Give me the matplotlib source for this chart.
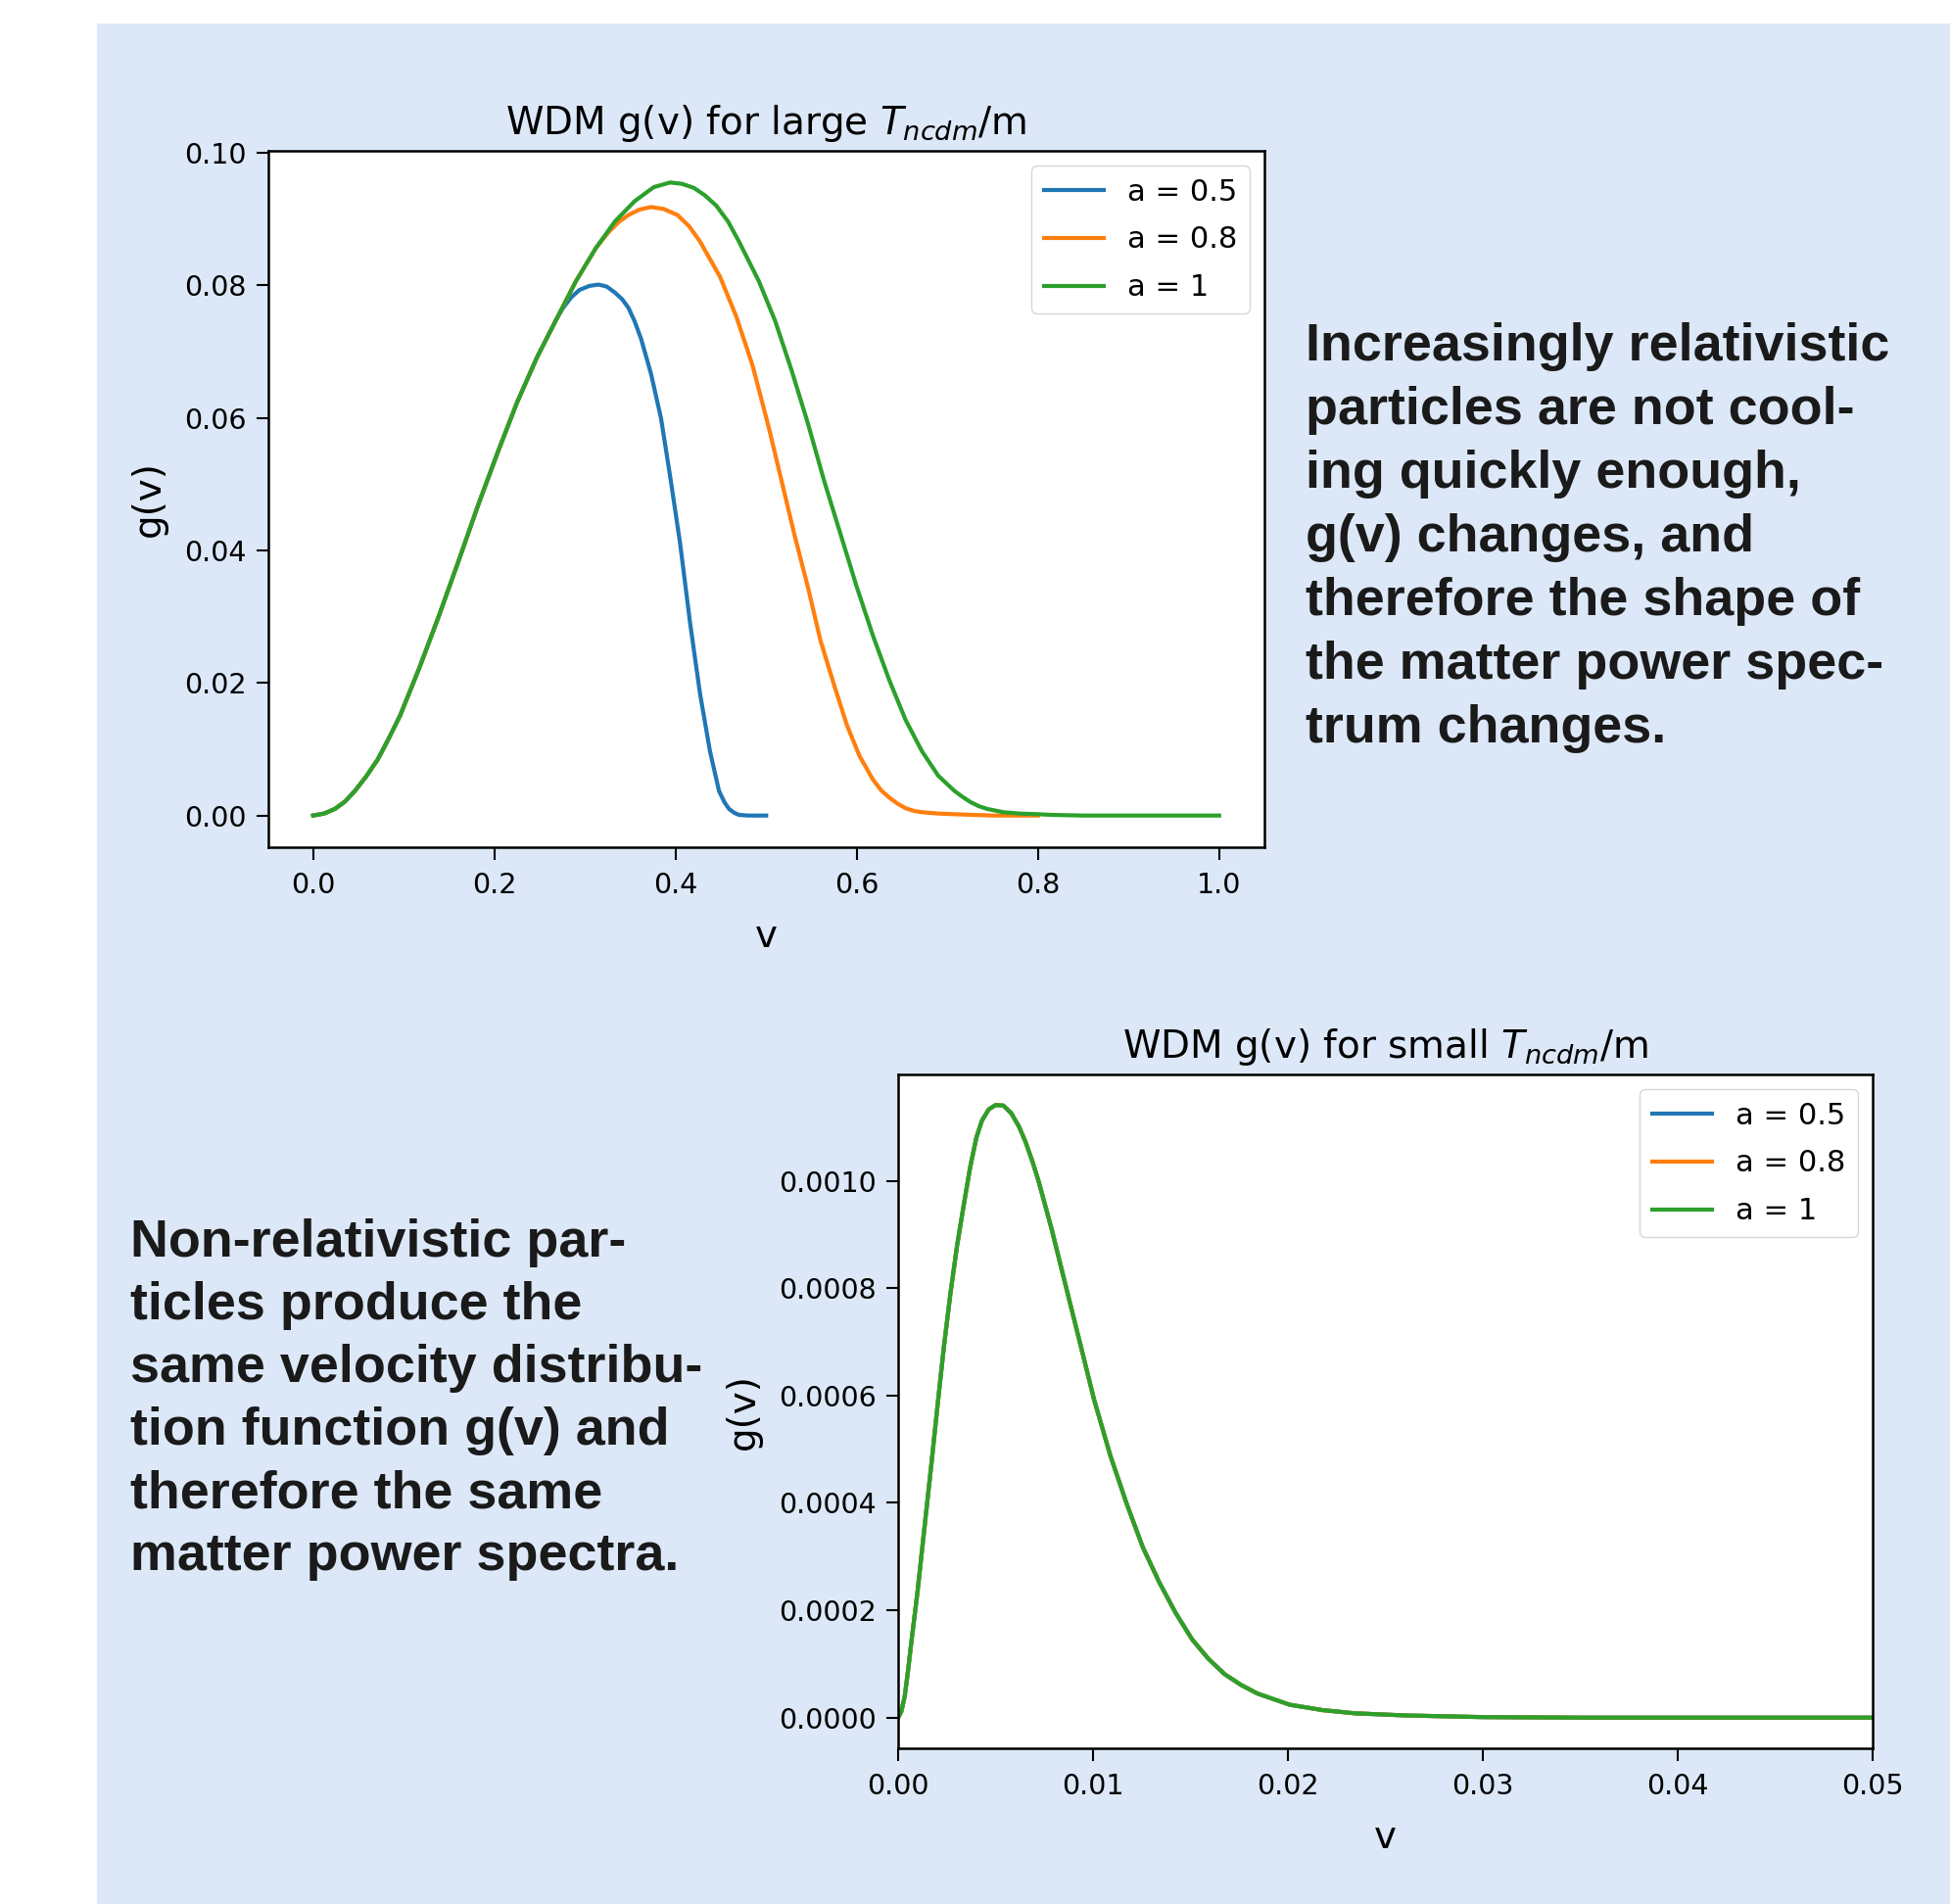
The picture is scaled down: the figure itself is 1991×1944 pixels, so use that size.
import matplotlib.pyplot as plt
from matplotlib.patches import Rectangle

# --- large T_ncdm/m panel: values ---
# shared rising part of all three curves
v_rise = [0.0, 0.012, 0.024, 0.035, 0.046, 0.058, 0.071, 0.083, 0.096, 0.117, 0.139, 0.161, 0.182,
          0.204, 0.225, 0.247, 0.269]
g_rise = [0.0, 0.0003, 0.0010, 0.0021, 0.0037, 0.0058, 0.0084, 0.0115, 0.0151, 0.0222, 0.0302, 0.0386, 0.0468,
          0.0549, 0.0623, 0.0691, 0.0750]

v_a05 = v_rise + [0.276, 0.285, 0.294, 0.305, 0.315, 0.324, 0.333, 0.341, 0.348, 0.355, 0.362, 0.373, 0.384,
                  0.394, 0.405, 0.416, 0.427, 0.438, 0.448, 0.454, 0.459, 0.465, 0.470, 0.480, 0.500]
g_a05 = g_rise + [0.0766, 0.0782, 0.0793, 0.0799, 0.0801, 0.0798, 0.0789, 0.0779, 0.0766, 0.0745, 0.0719, 0.0666,
                  0.0599, 0.0512, 0.0411, 0.0291, 0.0184, 0.0097, 0.0037, 0.0020, 0.0010, 0.0004, 0.0001, 0.0, 0.0]

v_a08 = v_rise + [0.290, 0.312, 0.326, 0.337, 0.348, 0.360, 0.373, 0.387, 0.402, 0.415, 0.427, 0.449, 0.467,
                  0.485, 0.503, 0.517, 0.531, 0.546, 0.560, 0.575, 0.589, 0.603, 0.618, 0.627, 0.636, 0.645,
                  0.654, 0.663, 0.672, 0.690, 0.708, 0.750, 0.800]
g_a08 = g_rise + [0.0806, 0.0856, 0.0880, 0.0895, 0.0906, 0.0914, 0.0918, 0.0915, 0.0906, 0.0889, 0.0866, 0.0813,
                  0.0753, 0.0679, 0.0585, 0.0505, 0.0425, 0.0345, 0.0264, 0.0197, 0.0137, 0.0090, 0.0054, 0.0038,
                  0.0027, 0.0018, 0.0011, 0.0007, 0.0005, 0.0003, 0.0002, 0.0, 0.0]

v_a1 = v_rise + [0.290, 0.312, 0.333, 0.355, 0.376, 0.394, 0.407, 0.420, 0.432, 0.445, 0.458, 0.470, 0.492,
                 0.510, 0.528, 0.546, 0.564, 0.582, 0.600, 0.618, 0.636, 0.654, 0.672, 0.690, 0.708, 0.717,
                 0.726, 0.735, 0.744, 0.762, 0.780, 0.800, 0.815, 0.850, 0.900, 1.000]
g_a1 = g_rise + [0.0806, 0.0856, 0.0896, 0.0927, 0.0948, 0.0955, 0.0953, 0.0947, 0.0936, 0.0920, 0.0896, 0.0866,
                 0.0806, 0.0746, 0.0672, 0.0592, 0.0505, 0.0425, 0.0345, 0.0271, 0.0204, 0.0144, 0.0097, 0.0060,
                 0.0037, 0.0028, 0.0020, 0.0014, 0.0010, 0.0005, 0.0003, 0.0002, 0.0001, 0.0, 0.0, 0.0]

# --- small T_ncdm/m panel: the three curves coincide ---
v_small = [0.0, 0.00017, 0.00034, 0.0005, 0.00067, 0.0010, 0.00134, 0.00168, 0.00201, 0.00235, 0.00268,
           0.00302, 0.00335, 0.00369, 0.00402, 0.0043, 0.00465, 0.0050, 0.0054, 0.0058, 0.0062, 0.00653,
           0.0069, 0.0072, 0.00787, 0.00854, 0.00938, 0.01005, 0.01089, 0.01173, 0.01256, 0.0134, 0.01424,
           0.01508, 0.01591, 0.01675, 0.01759, 0.01843, 0.0193, 0.0201, 0.02178, 0.02345, 0.0261, 0.030,
           0.035, 0.040, 0.045, 0.050]
g_small = [0.0, 0.000012, 0.00004, 0.000085, 0.000138, 0.000236, 0.00035, 0.000463, 0.000577, 0.000691, 0.000789,
           0.000878, 0.000951, 0.001024, 0.001081, 0.001112, 0.001133, 0.001141, 0.00114, 0.001126, 0.001101,
           0.001073, 0.001035, 0.0010, 0.000911, 0.000813, 0.000691, 0.000593, 0.000488, 0.000398, 0.000317,
           0.000252, 0.000195, 0.000146, 0.00011, 0.000081, 0.000061, 0.000045, 0.000034, 0.000024, 0.000014,
           0.000008, 0.000004, 0.000001, 0.0, 0.0, 0.0, 0.0]

labels = ['a = 0.5', 'a = 0.8', 'a = 1']

right_lines = ["Increasingly relativistic", "particles are not cool-", "ing quickly enough,",
               "g(v) changes, and", "therefore the shape of", "the matter power spec-", "trum changes."]
left_lines = ["Non-relativistic par-", "ticles produce the", "same velocity distribu-",
              "tion function g(v) and", "therefore the same", "matter power spectra."]

W, H = 1991, 1944
plt.rcParams.update({
    'font.size': 20.5,
    'axes.linewidth': 1.8,
    'xtick.major.size': 9,
    'ytick.major.size': 9,
    'xtick.major.width': 1.5,
    'ytick.major.width': 1.5,
    'xtick.major.pad': 9,
    'ytick.major.pad': 7,
    'lines.linewidth': 3.0,
})

fig = plt.figure(figsize=(W / 100, H / 100), dpi=100, facecolor='white')
fig.patches.append(Rectangle((99 / W, 0), 1 - 99 / W, 1 - 24 / H, transform=fig.transFigure,
                             facecolor='#dce8f7', edgecolor='none', zorder=-10))


def px(x, y):
    return x / W, 1 - y / H


ax1 = fig.add_axes([273.5 / W, 1 - 865 / H, (1291 - 273.5) / W, (865 - 154) / H])
ax1.plot(v_a05, g_a05, label=labels[0])
ax1.plot(v_a08, g_a08, label=labels[1])
ax1.plot(v_a1, g_a1, label=labels[2])
ax1.set_title('WDM g(v) for large $T_{ncdm}$/m', fontsize=28, pad=12)
ax1.set_xlabel('v', fontsize=28, labelpad=14)
ax1.set_ylabel('g(v)', fontsize=28, labelpad=12)
ax1.legend(loc='upper right', fontsize=22, labelspacing=0.65)

ax2 = fig.add_axes([917 / W, 1 - 1785 / H, (1912 - 917) / W, (1785 - 1097) / H])
for lab in labels:
    ax2.plot(v_small, g_small, label=lab)
ax2.set_xlim(0, 0.05)
ax2.set_title('WDM g(v) for small $T_{ncdm}$/m', fontsize=28, pad=12)
ax2.set_xlabel('v', fontsize=28, labelpad=14)
ax2.set_ylabel('g(v)', fontsize=28, labelpad=12)
ax2.legend(loc='upper right', fontsize=22, labelspacing=0.65)

for i, line in enumerate(right_lines):
    fig.text(*px(1333, 368 + 65 * i), line, fontsize=38.8, fontweight='bold',
             family='Liberation Sans', color='#1a1a1a', va='baseline')
for i, line in enumerate(left_lines):
    fig.text(*px(133, 1283 + 64 * i), line, fontsize=38.8, fontweight='bold',
             family='Liberation Sans', color='#1a1a1a', va='baseline')

fig.savefig('out.png', dpi=100)
